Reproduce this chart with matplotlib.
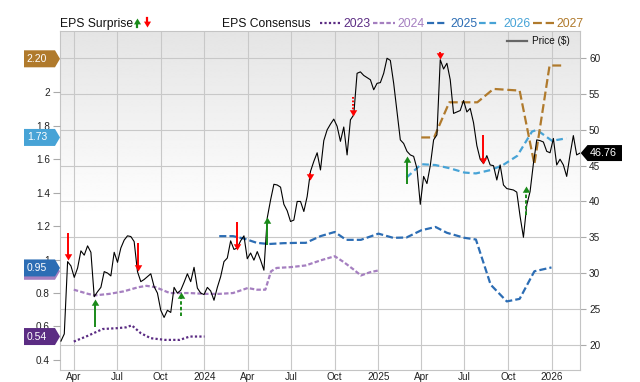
import numpy as np
import pandas as pd
import matplotlib
matplotlib.use('Agg')
import matplotlib.pyplot as plt
import matplotlib.transforms as mtransforms
from matplotlib.lines import Line2D
from matplotlib.patches import Polygon

plt.rcParams['font.family'] = ['Liberation Sans', 'DejaVu Sans']

# weekly share price ($), first week starting 2023-03-05
price_start = '2023-03-05'
price = [20.5, 21.5, 31.6, 31.0, 29.4, 30.7, 33.1, 32.5, 33.8, 32.9,
         26.7, 27.4, 28.0, 30.2, 30.0, 29.6, 32.9, 31.5, 33.5, 34.6,
         35.2, 35.1, 34.4, 30.2, 28.8, 29.1, 29.5, 29.9, 28.1, 27.2,
         24.8, 23.8, 24.8, 24.5, 28.0, 27.2, 27.6, 28.7, 29.9, 28.8,
         30.8, 27.9, 27.2, 27.0, 28.0, 27.5, 26.2, 28.0, 29.5, 31.6,
         32.1, 34.5, 33.3, 33.5, 34.5, 35.2, 32.0, 32.8, 31.8, 33.0,
         31.8, 30.4, 37.7, 40.2, 42.4, 42.3, 42.0, 39.6, 38.7, 37.2,
         37.4, 40.0, 40.0, 38.6, 40.7, 44.2, 45.6, 46.8, 44.4, 48.5,
         50.0, 50.8, 51.5, 50.5, 48.4, 50.4, 46.5, 51.4, 52.1, 57.9,
         58.1, 57.6, 57.3, 57.0, 55.6, 56.5, 56.6, 57.9, 60.0, 59.7,
         56.5, 52.5, 48.6, 48.1, 47.0, 46.5, 46.3, 44.6, 39.6, 43.5,
         42.5, 45.0, 48.6, 49.3, 59.8, 58.5, 59.3, 57.0, 52.3, 52.5,
         52.7, 54.1, 52.5, 53.0, 51.0, 47.8, 45.9, 45.3, 46.4, 45.1,
         45.0, 43.0, 45.1, 42.3, 41.8, 41.7, 41.6, 41.3, 37.9, 35.0,
         39.5, 41.4, 45.3, 48.6, 48.5, 48.3, 47.0, 46.8, 48.8, 45.1,
         45.9, 45.1, 43.5, 46.5, 49.2, 46.5, 46.76]

# EPS consensus per fiscal year
eps23_dates = ['2023-04-01', '2023-05-01', '2023-06-01', '2023-07-01', '2023-07-20',
               '2023-08-01', '2023-08-20', '2023-09-10', '2023-10-10', '2023-11-10',
               '2023-12-01', '2024-01-01']
eps23 = [0.51, 0.545, 0.585, 0.59, 0.595, 0.607, 0.56, 0.53, 0.52, 0.52, 0.54, 0.54]

eps24_dates = ['2023-04-01', '2023-05-01', '2023-05-15', '2023-06-15', '2023-07-15',
               '2023-08-15', '2023-09-01', '2023-09-20', '2023-10-20', '2023-12-01',
               '2024-01-01', '2024-02-01', '2024-03-01', '2024-04-01', '2024-04-20',
               '2024-05-08', '2024-05-20', '2024-06-01', '2024-07-01', '2024-08-01',
               '2024-09-01', '2024-10-01', '2024-10-20', '2024-11-10', '2024-11-25',
               '2024-12-15', '2025-01-01']
eps24 = [0.82, 0.795, 0.786, 0.795, 0.81, 0.835, 0.843, 0.835, 0.80, 0.80,
         0.795, 0.795, 0.80, 0.83, 0.82, 0.82, 0.93, 0.95, 0.955, 0.965,
         0.995, 1.02, 0.985, 0.94, 0.905, 0.925, 0.935]

eps25_dates = ['2024-02-01', '2024-03-01', '2024-03-25', '2024-04-20', '2024-05-15',
               '2024-06-15', '2024-07-15', '2024-08-01', '2024-09-01', '2024-10-01',
               '2024-10-25', '2024-11-25', '2025-01-01', '2025-02-01', '2025-03-01',
               '2025-04-01', '2025-05-01', '2025-05-25', '2025-07-01', '2025-07-25',
               '2025-08-25', '2025-09-28', '2025-10-25', '2025-11-25', '2025-12-31']
eps25 = [1.14, 1.14, 1.125, 1.10, 1.093, 1.098, 1.10, 1.10, 1.14, 1.165,
         1.118, 1.118, 1.155, 1.13, 1.132, 1.175, 1.195, 1.16, 1.13, 1.12,
         0.85, 0.75, 0.765, 0.93, 0.953]

eps26_dates = ['2025-03-01', '2025-04-01', '2025-05-01', '2025-06-01', '2025-07-01',
               '2025-07-25', '2025-08-25', '2025-09-20', '2025-10-20', '2025-11-20',
               '2025-11-30', '2025-12-10', '2026-01-01', '2026-02-01']
eps26 = [1.49, 1.57, 1.565, 1.545, 1.52, 1.515, 1.535, 1.565, 1.62, 1.765,
         1.775, 1.755, 1.71, 1.725]

eps27_dates = ['2025-04-01', '2025-04-28', '2025-05-30', '2025-07-28', '2025-08-31',
               '2025-10-25', '2025-11-25', '2025-12-27', '2026-01-27']
eps27 = [1.73, 1.73, 1.94, 1.94, 2.02, 2.01, 1.57, 2.16, 2.16]

years = ['2023', '2024', '2025', '2026', '2027']
year_colors = ['#5b2c83', '#a57fc0', '#2c6db4', '#47a3d6', '#b07a2c']
year_dashes = [(1, 1), (2, 1), (3.2, 1.4), (3, 1.7), (4, 1.7)]

# last consensus values shown as tags on the left axis
tag_values = [2.20, 1.73, 0.93, 0.95, 0.54]
tag_labels = ['2.20', '1.73', '', '0.95', '0.54']
tag_colors = ['#b07a2c', '#47a3d6', '#a57fc0', '#2c6db4', '#5b2c83']

# EPS surprise arrows (drawn against price)
surprise_dates = ['2023-03-20', '2023-05-15', '2023-08-14', '2023-11-13', '2024-03-10',
                  '2024-05-12', '2024-08-11', '2024-11-09', '2025-03-03', '2025-05-10',
                  '2025-08-09', '2025-11-08']
surprise_from = [35.6, 22.5, 34.2, 24.0, 37.2, 33.9, 44.0, 54.6, 42.4, 60.9, 49.3, 38.1]
surprise_to = [31.8, 26.4, 30.3, 27.3, 33.2, 37.8, 43.0, 51.9, 46.3, 59.9, 45.3, 42.2]
surprise_style = ['solid', 'solid', 'solid', 'dashed', 'solid', 'solid', 'solid',
                  'dotted', 'solid', 'solid', 'solid', 'dashed']

xtick_dates = ['2023-04-01', '2023-07-01', '2023-10-01', '2024-01-01', '2024-04-01',
               '2024-07-01', '2024-10-01', '2025-01-01', '2025-04-01', '2025-07-01',
               '2025-10-01', '2026-01-01']
xtick_labels = ['Apr', 'Jul', 'Oct', '2024', 'Apr', 'Jul', 'Oct', '2025', 'Apr', 'Jul',
                'Oct', '2026']
price_ticks = [20, 25, 30, 35, 40, 45, 50, 55, 60]
eps_ticks = [0.4, 0.6, 0.8, 1.0, 1.2, 1.4, 1.6, 1.8, 2.0]
eps_tick_labels = ['0.4', '0.6', '0.8', '1', '1.2', '1.4', '1.6', '1.8', '2']

last_price = 46.76

W, H = 640, 382
RED = '#ff0000'
GREEN = '#1a8a1a'


def fx(px):
    return px / W


def fy(py):
    return 1 - py / H


def main():
    fig = plt.figure(figsize=(W / 100, H / 100), dpi=100)
    ax = fig.add_axes([fx(60), fy(370), fx(580) - fx(60), fy(30.7) - fy(370)])
    # twin axes: consensus lines in EPS units, price on top
    ax_eps = ax.twinx()
    ax_p = ax.twinx()

    xlim = (pd.Timestamp('2023-03-03'), pd.Timestamp('2026-03-01'))
    plim = (16.46, 63.85)
    elim = (0.340, 2.368)

    # gray to white background
    g = np.clip(np.linspace(0, 1, 256) / 0.55, 0, 1)
    img = (0.895 + 0.105 * g)[:, None]
    ax.imshow(img, extent=(0, 1, 0, 1), transform=ax.transAxes, aspect='auto',
              cmap='gray', vmin=0, vmax=1, zorder=0, interpolation='bilinear')

    ax.set_xlim(*xlim)
    ax.set_ylim(*plim)
    ax.set_axisbelow(True)
    ax.grid(True, color='#c8c8c8', lw=0.8)
    ax.set_xticks(pd.to_datetime(xtick_dates))
    ax.set_xticklabels(xtick_labels)
    ax.yaxis.tick_right()
    ax.set_yticks(price_ticks)
    ax.tick_params(axis='x', length=0, pad=1.5, labelsize=7.2, labelcolor='#222222')
    ax.tick_params(axis='y', length=4.5, width=0.8, color='#aaaaaa', pad=2,
                   labelsize=7.2, labelcolor='#222222')
    for s in ax.spines.values():
        s.set_color('#c4c4c4')
        s.set_linewidth(0.8)

    ax_eps.set_ylim(*elim)
    ax_eps.yaxis.tick_left()
    ax_eps.set_yticks(eps_ticks)
    ax_eps.set_yticklabels(eps_tick_labels)
    ax_eps.tick_params(axis='y', length=4.8, width=0.8, color='#aaaaaa', pad=2.4,
                       labelsize=7.2, labelcolor='#222222')
    for s in ax_eps.spines.values():
        s.set_visible(False)

    series = [(eps23_dates, eps23), (eps24_dates, eps24), (eps25_dates, eps25),
              (eps26_dates, eps26), (eps27_dates, eps27)]
    for (d, v), c, dsh in zip(series, year_colors, year_dashes):
        ax_eps.plot(pd.to_datetime(d), v, color=c, lw=1.6, dashes=dsh)

    # price line and surprise arrows
    ax_p.set_ylim(*plim)
    ax_p.axis('off')
    pdates = pd.date_range(price_start, periods=len(price), freq='7D')
    ax_p.plot(pdates, price, color='black', lw=0.8)

    head_dn = [(0, 0), (-0.6, 1), (0.6, 1), (0, 0)]
    head_up = [(0, 0), (-0.6, -1), (0.6, -1), (0, 0)]
    style_map = {'solid': '-', 'dashed': (0, (1.8, 1.1)), 'dotted': (0, (0.9, 0.9))}
    for d, a, b, st in zip(pd.to_datetime(surprise_dates), surprise_from,
                           surprise_to, surprise_style):
        up = b > a
        c = GREEN if up else RED
        end = b - 0.5 if up else b + 0.5
        ax_p.plot([d, d], [a, end], color=c, lw=1.4, linestyle=style_map[st],
                  solid_capstyle='butt', dash_capstyle='butt')
        ax_p.plot([d], [b], marker=head_up if up else head_dn, ms=9, color=c,
                  mec='none', lw=0)
    ax_p.set_xlim(*xlim)
    ax.set_xlim(*xlim)

    # tags on the left axis
    for val, lab, col in zip(tag_values, tag_labels, tag_colors):
        tr = fig.dpi_scale_trans + mtransforms.ScaledTranslation(
            0, val, ax_eps.get_yaxis_transform())
        verts = np.array([(-36, -8.5), (-5, -8.5), (0, 0), (-5, 8.5), (-36, 8.5)]) / 100
        fig.add_artist(Polygon(verts, closed=True, fc=col, ec='none', transform=tr))
        if lab:
            fig.text(-0.23, 0, lab, transform=tr, ha='center', va='center',
                     color='white', fontsize=7.5)

    # last price tag on the right
    tr = fig.dpi_scale_trans + mtransforms.ScaledTranslation(
        1, last_price, ax_p.get_yaxis_transform())
    verts = np.array([(0.7, 0), (7.5, -8), (42, -8), (42, 8), (7.5, 8)]) / 100
    fig.add_artist(Polygon(verts, closed=True, fc='black', ec='none', transform=tr))
    fig.text(0.23, 0, f'{last_price:.2f}', transform=tr, ha='center', va='center',
             color='white', fontsize=7.8)

    # top legend
    fig.text(fx(60), fy(27), 'EPS Surprise', fontsize=8.7, color='#111111')
    fig.add_artist(Line2D([fx(137.3), fx(137.3)], [fy(27), fy(22)], color=GREEN, lw=1.6,
                          transform=fig.transFigure))
    fig.add_artist(Line2D([fx(137.3)], [fy(18.0)], marker=head_up, ms=8.5, color=GREEN,
                          mec='none', transform=fig.transFigure))
    fig.add_artist(Line2D([fx(147.3), fx(147.3)], [fy(18.0), fy(23)], color=RED, lw=1.6,
                          transform=fig.transFigure))
    fig.add_artist(Line2D([fx(147.3)], [fy(27.0)], marker=head_dn, ms=8.5, color=RED,
                          mec='none', transform=fig.transFigure))

    fig.text(fx(221.7), fy(27), 'EPS Consensus', fontsize=8.7, color='#111111')
    line_x = [(320, 339.7), (373.3, 394.7), (426.7, 447.2), (479.2, 498.5), (533.3, 553.8)]
    text_x = [343.8, 397.1, 450.0, 503.8, 556.7]
    for yr, c, dsh, lx, tx in zip(years, year_colors, year_dashes, line_x, text_x):
        fig.add_artist(Line2D([fx(lx[0]), fx(lx[1])], [fy(22.7), fy(22.7)], color=c,
                              lw=1.6, dashes=dsh, transform=fig.transFigure))
        fig.text(fx(tx), fy(27), yr, fontsize=8.7, color=c)

    # price legend inside the plot
    fig.add_artist(Line2D([fx(506.7), fx(526.7)], [fy(41), fy(41)], color='#666666',
                          lw=1.6, transform=fig.transFigure))
    fig.text(fx(532), fy(41), 'Price ($)', fontsize=7.2, va='center', color='#111111')

    fig.savefig('out.png', dpi=100)


if __name__ == '__main__':
    main()
